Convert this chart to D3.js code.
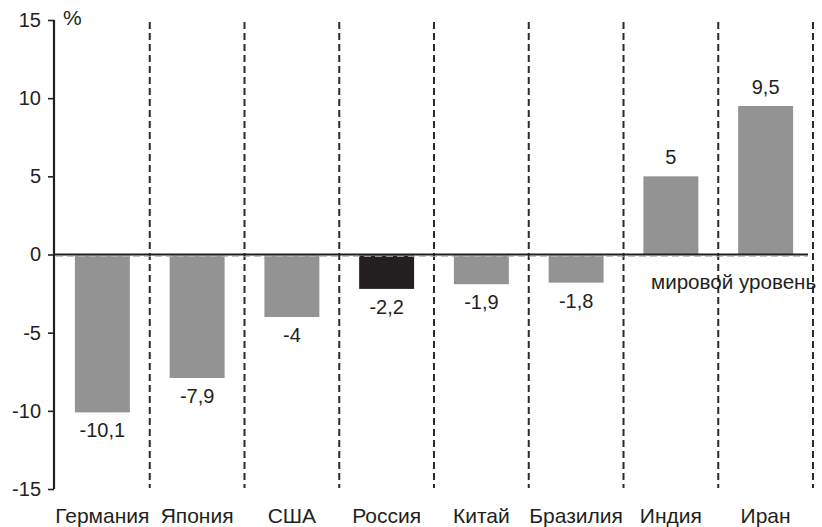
<!DOCTYPE html>
<html><head><meta charset="utf-8">
<script src="https://cdn.jsdelivr.net/npm/d3@7"></script>
<style>body{margin:0;background:#fff}svg{display:block}text{font-family:"Liberation Sans",Arial,sans-serif;fill:#231f20}</style>
</head><body><div id="c"></div>
<script>
const categories = ["Германия","Япония","США","Россия","Китай","Бразилия","Индия","Иран"];
const values = [-10.1,-7.9,-4,-2.2,-1.9,-1.8,5,9.5];
const valueLabels = ["-10,1","-7,9","-4","-2,2","-1,9","-1,8","5","9,5"];
const highlight = ["Россия"];
const yTicks = [-15,-10,-5,0,5,10,15];
const unitLabel = "%";
const worldLabel = "мировой уровень";

const W=822,H=527;
const svg=d3.select("#c").append("svg").attr("width",W).attr("height",H);
const x=d3.scaleBand().domain(categories).range([55,813]).paddingInner(0.42).paddingOuter(0.21);
const y=d3.scaleLinear().domain([-15,15]).range([489,20]);
const ink="#231f20";

// dashed separators
const seps=categories.map((c,i)=>55+(i+1)*(758/categories.length));
svg.selectAll("line.sep").data(seps).join("line").attr("class","sep")
 .attr("x1",d=>d).attr("x2",d=>d).attr("y1",y(15)+2).attr("y2",y(-15)-1)
 .attr("stroke","#2b2b2b").attr("stroke-width",2).attr("stroke-dasharray","7,4");

// bars
svg.selectAll("rect.bar").data(categories).join("rect").attr("class","bar")
 .attr("x",d=>x(d)).attr("width",x.bandwidth())
 .attr("y",(d,i)=>values[i]>=0?y(values[i]):y(0)+1)
 .attr("height",(d,i)=>Math.abs(y(values[i])-y(0))-(values[i]>=0?0:1))
 .attr("fill",d=>highlight.includes(d)?ink:"#939393");

// faint dashed grid at zero
svg.append("line").attr("x1",56).attr("x2",808).attr("y1",y(0)+1.8).attr("y2",y(0)+1.8)
 .attr("stroke","#b5b5b5").attr("stroke-width",1).attr("stroke-dasharray","7,4");

// zero line
svg.append("line").attr("x1",54).attr("x2",808).attr("y1",y(0)).attr("y2",y(0))
 .attr("stroke",ink).attr("stroke-width",2.2);

// y axis
const ax=svg.append("g").attr("transform","translate(54,0)")
 .call(d3.axisLeft(y).tickValues(yTicks).tickSize(6).tickPadding(7).tickFormat(d=>d));
ax.select(".domain").attr("stroke",ink).attr("stroke-width",2.2).attr("d",`M0,${y(15)}V${y(-15)}`);
ax.selectAll(".tick line").attr("stroke",ink).attr("stroke-width",1.6);
ax.selectAll(".tick text").attr("font-size",20).attr("fill",ink).style("font-family","Liberation Sans, Arial, sans-serif");

svg.append("text").attr("x",63).attr("y",25).attr("font-size",21).text(unitLabel);

// value labels
svg.selectAll("text.val").data(categories).join("text").attr("class","val")
 .attr("x",d=>x(d)+x.bandwidth()/2).attr("text-anchor","middle").attr("font-size",20)
 .attr("y",(d,i)=>values[i]>=0?y(values[i])-12:y(values[i])+25)
 .text((d,i)=>valueLabels[i]);

// category labels
svg.selectAll("text.cat").data(categories).join("text").attr("class","cat")
 .attr("x",d=>x(d)+x.bandwidth()/2).attr("y",523).attr("text-anchor","middle").attr("font-size",21)
 .text(d=>d);

svg.append("text").attr("x",651).attr("y",289).attr("font-size",20.6).text(worldLabel);
</script></body></html>
